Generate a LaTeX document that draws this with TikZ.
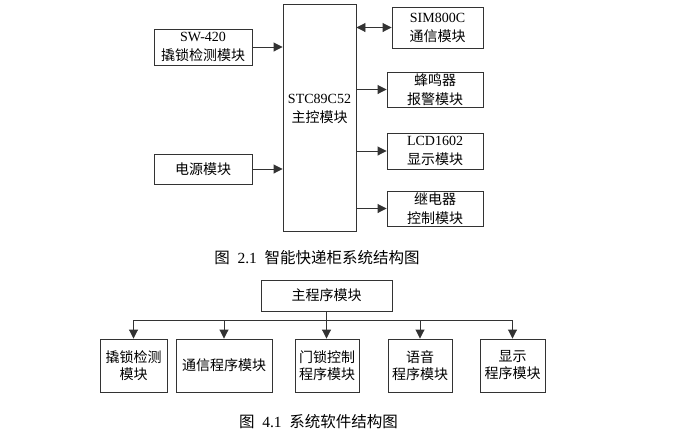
\documentclass[tikz,border=0pt]{standalone}
\usepackage{fontspec}
\setmainfont{Noto Sans CJK SC}
\newfontfamily\latf{Liberation Serif}
\usepackage{tikz}
\usetikzlibrary{arrows.meta}

\begin{document}
\begin{tikzpicture}[
  x=1pt,y=-1pt,
  box/.style={draw=black!80,line width=0.9pt,align=center,inner sep=0pt,font=\fontsize{14}{19}\selectfont},
  sbox/.style={draw=black!80,line width=0.9pt,align=center,inner sep=0pt,minimum height=53pt,font=\fontsize{14}{17}\selectfont},
  line/.style={draw=black!80,line width=0.9pt},
  arrow/.style={line,-{Triangle[length=9pt,width=9pt]}},
  dblarrow/.style={line,{Triangle[length=9pt,width=9pt]}-{Triangle[length=9pt,width=9pt]}},
  caption/.style={font=\fontsize{15.5}{18}\selectfont}
]
\useasboundingbox (0,0) rectangle (680,440);

% system structure
\node[box,minimum width=73pt,minimum height=227pt] (mcu) at (319.5,117.5) {{\latf STC89C52}\\主控模块\\\mbox{}};
\node[box,minimum width=98pt,minimum height=36pt] (sw) at (203,47) {{\latf SW-420}\\撬锁检测模块};
\node[box,minimum width=98pt,minimum height=30pt] (power) at (203,169) {电源模块};
\node[box,minimum width=91pt,minimum height=41pt] (sim) at (437.5,27.5) {{\latf SIM800C}\\通信模块};
\node[box,minimum width=96pt,minimum height=35pt] (buzz) at (435,89.5) {蜂鸣器\\报警模块};
\node[box,minimum width=96pt,minimum height=36pt] (lcd) at (435,151) {{\latf LCD1602}\\显示模块};
\node[box,minimum width=96pt,minimum height=35pt] (relay) at (435,208.5) {继电器\\控制模块};
\draw[arrow] (sw.east) -- (sw.east -| mcu.west);
\draw[arrow] (power.east) -- (power.east -| mcu.west);
\draw[dblarrow] (sim.west -| mcu.east) -- (sim.west);
\foreach \n in {buzz,lcd,relay}
  \draw[arrow] (\n.west -| mcu.east) -- (\n.west);
\node[caption] (cap1) at (317,258) {图\kern7.75pt{\latf 2.1}\kern7.75pt智能快递柜系统结构图};

% software structure
\node[box,minimum width=131pt,minimum height=31pt] (mainprog) at (326.5,295.5) {主程序模块};
\coordinate (bus) at (0,320);
\node[sbox,minimum width=67pt] (crack) at (133.5,365.5) {撬锁检测\\模块};
\node[sbox,minimum width=96pt] (comm) at (224,365.5) {通信程序模块};
\node[sbox,minimum width=64pt] (door) at (327,365.5) {门锁控制\\程序模块};
\node[sbox,minimum width=64pt] (voice) at (420,365.5) {语音\\程序模块};
\node[sbox,minimum width=65pt] (disp) at (512.5,365.5) {显示\\程序模块};
\draw[line] (crack.north |- bus) -- (disp.north |- bus);
\draw[arrow] (mainprog.south) -- (mainprog.south |- door.north);
\foreach \n in {crack,comm,voice,disp}
  \draw[arrow] (\n.north |- bus) -- (\n.north);
\node[caption] (cap2) at (318.5,422) {图\kern7.75pt{\latf 4.1}\kern7.75pt系统软件结构图};
\end{tikzpicture}
\end{document}
